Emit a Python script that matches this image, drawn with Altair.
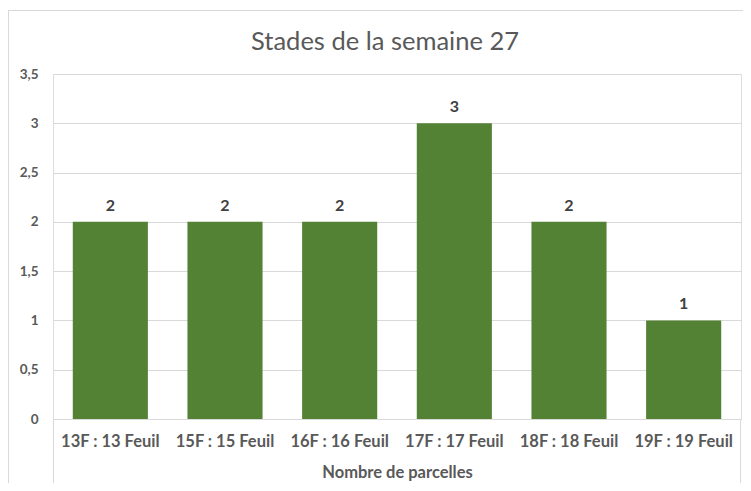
import altair as alt
import pandas as pd

categories = ["13F : 13 Feuil", "15F : 15 Feuil", "16F : 16 Feuil",
              "17F : 17 Feuil", "18F : 18 Feuil", "19F : 19 Feuil"]
values = [2, 2, 2, 3, 2, 1]
y_ticks = [0, 0.5, 1, 1.5, 2, 2.5, 3, 3.5]
title_text = "Stades de la semaine 27"
x_title = "Nombre de parcelles"

df = pd.DataFrame({"cat": categories, "val": values})

FONT = "Lato"
W, H = 688, 345
GREEN = "#548235"
GRID = "#d9d9d9"
TXT = "#595959"

x_enc = alt.X("cat:N", sort=categories,
              scale=alt.Scale(paddingInner=0.345, paddingOuter=0.1725),
              axis=alt.Axis(title=x_title, labelAngle=0, labelFont=FONT,
                            labelFontSize=16.5, labelFontWeight="bold",
                            labelColor=TXT, labelPadding=14, ticks=False,
                            domain=True, domainColor=GRID,
                            titleFont=FONT, titleFontSize=16.5,
                            titleFontWeight="bold", titleColor=TXT,
                            titlePadding=15))
y_enc = alt.Y("val:Q", scale=alt.Scale(domain=[0, 3.5], nice=False),
              axis=alt.Axis(title=None, values=y_ticks, grid=True,
                            gridColor=GRID, domain=False, ticks=False,
                            labelFont=FONT, labelFontSize=13.5,
                            labelFontWeight="bold", labelColor=TXT,
                            labelPadding=15,
                            labelExpr="replace(toString(datum.value), '.', ',')"))

base = alt.Chart(df)
bars = base.mark_bar(color=GREEN).encode(x=x_enc, y=y_enc)
labels = base.mark_text(font=FONT, fontSize=16, fontWeight="bold",
                        color="#404040", dy=-16, baseline="middle").encode(
    x=alt.X("cat:N", sort=categories), y="val:Q", text="val:Q")

title_df = pd.DataFrame({"t": [title_text]})
title_mark = alt.Chart(title_df).mark_text(
    font=FONT, fontSize=25.5, fontWeight="normal", color=TXT,
    baseline="middle", align="center").encode(
    text="t:N", x=alt.value(332), y=alt.value(-32))

frame_df = pd.DataFrame({"k": [0]})
fb = alt.Chart(frame_df)
left_v = fb.mark_rule(color=GRID, strokeWidth=1).encode(
    x=alt.value(0.5), y=alt.value(H), y2=alt.value(H + 70))
right_v = fb.mark_rule(color=GRID, strokeWidth=1).encode(
    x=alt.value(W - 0.5), y=alt.value(H), y2=alt.value(H + 70))
outer_left = fb.mark_rule(color=GRID, strokeWidth=1).encode(
    x=alt.value(-44.5), y=alt.value(-64), y2=alt.value(H + 70))
outer_top = fb.mark_rule(color=GRID, strokeWidth=1).encode(
    x=alt.value(-44.5), x2=alt.value(W + 10), y=alt.value(-63.5))

chart = alt.layer(bars, labels, title_mark, left_v, right_v, outer_left,
                  outer_top).properties(
    width=W, height=H,
    autosize=alt.AutoSizeParams(type="none"),
    padding={"left": 45, "top": 66, "right": 2, "bottom": 64},
).configure_view(stroke=None).configure(background="white")

chart.save("out.html", embed_options={"renderer": "svg", "actions": False})
